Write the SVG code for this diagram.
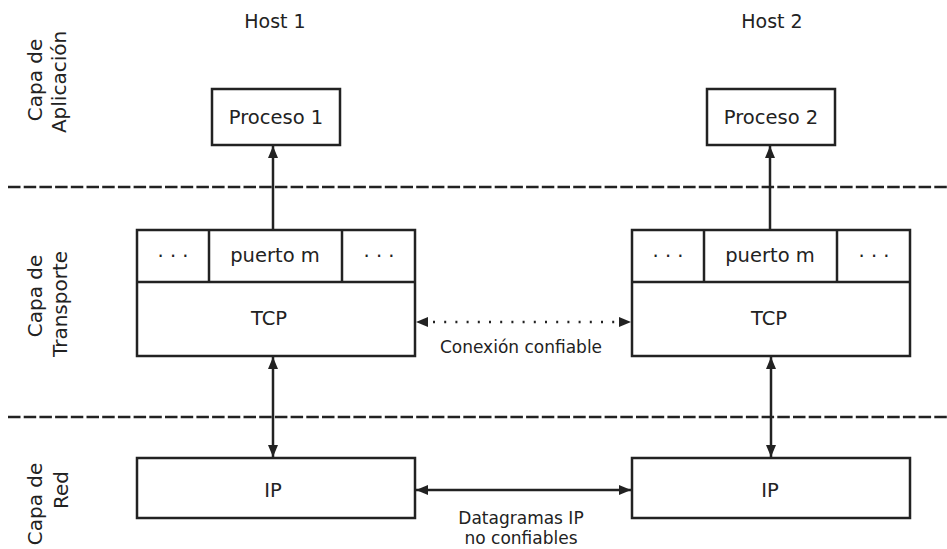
<svg xmlns="http://www.w3.org/2000/svg" width="947" height="549" viewBox="0 0 947 549">
  <defs>
    <style>
      .box { fill: #ffffff; stroke: #222222; stroke-width: 2.5; }
      .t { font-family: "DejaVu Sans", "Liberation Sans", sans-serif; fill: #222222; text-anchor: middle; }
      .bt { font-size: 19.5px; }
      .host { font-size: 19px; }
      .lbl { font-size: 17px; }
      .side { font-size: 20px; }
      .sep { stroke: #222222; stroke-width: 2.5; stroke-dasharray: 12.5 3.2; fill: none; }
      .link { stroke: #222222; stroke-width: 2.5; fill: none; }
      .dotted { stroke: #222222; stroke-width: 2.5; fill: none; stroke-dasharray: 2 9.2; stroke-dashoffset: 5.4; }
    </style>
    <marker id="head" viewBox="0 0 12 10" refX="12" refY="5" markerWidth="12" markerHeight="10" markerUnits="userSpaceOnUse" orient="auto-start-reverse">
      <path d="M0,0 L12,5 L0,10 z" fill="#222222"/>
    </marker>
  </defs>

  <rect width="947" height="549" fill="#ffffff"/>

  <!-- layer separators -->
  <g id="separators">
    <line class="sep" x1="8" y1="187" x2="947" y2="187"/>
    <line class="sep" x1="8" y1="417" x2="947" y2="417"/>
  </g>

  <!-- layer names, rotated -->
  <g id="layer-app">
    <text class="t side" transform="translate(42,80) rotate(-90)">Capa de</text>
    <text class="t side" transform="translate(66,82) rotate(-90)">Aplicación</text>
  </g>
  <g id="layer-transport">
    <text class="t side" transform="translate(42,296) rotate(-90)">Capa de</text>
    <text class="t side" transform="translate(67,304) rotate(-90)">Transporte</text>
  </g>
  <g id="layer-net">
    <text class="t side" transform="translate(42,504) rotate(-90)">Capa de</text>
    <text class="t side" transform="translate(68,490) rotate(-90)">Red</text>
  </g>

  <!-- host titles -->
  <text class="t host" x="275" y="28">Host 1</text>
  <text class="t host" x="772" y="28">Host 2</text>

  <!-- Host 1 nodes -->
  <g id="proceso1">
    <rect class="box" x="212" y="89" width="128" height="56"/>
    <text class="t bt" x="276" y="124">Proceso 1</text>
  </g>
  <g id="tcp1">
    <rect class="box" x="137" y="230" width="278" height="126"/>
    <line class="link" x1="137" y1="282" x2="415" y2="282"/>
    <line class="link" x1="209" y1="230" x2="209" y2="282"/>
    <line class="link" x1="342" y1="230" x2="342" y2="282"/>
    <text class="t bt" x="173" y="263">· · ·</text>
    <text class="t bt" x="275" y="262">puerto m</text>
    <text class="t bt" x="379" y="263">· · ·</text>
    <text class="t bt" x="269" y="325">TCP</text>
  </g>
  <g id="ip1">
    <rect class="box" x="137" y="458" width="278" height="60"/>
    <text class="t bt" x="273" y="497">IP</text>
  </g>

  <!-- Host 2 nodes -->
  <g id="proceso2">
    <rect class="box" x="707" y="89" width="128" height="56"/>
    <text class="t bt" x="771" y="124">Proceso 2</text>
  </g>
  <g id="tcp2">
    <rect class="box" x="632" y="230" width="278" height="126"/>
    <line class="link" x1="632" y1="282" x2="910" y2="282"/>
    <line class="link" x1="704" y1="230" x2="704" y2="282"/>
    <line class="link" x1="837" y1="230" x2="837" y2="282"/>
    <text class="t bt" x="668" y="263">· · ·</text>
    <text class="t bt" x="770" y="262">puerto m</text>
    <text class="t bt" x="874" y="263">· · ·</text>
    <text class="t bt" x="769" y="325">TCP</text>
  </g>
  <g id="ip2">
    <rect class="box" x="632" y="458" width="278" height="60"/>
    <text class="t bt" x="770" y="497">IP</text>
  </g>

  <!-- connectors -->
  <g id="connectors">
    <line class="link" x1="273" y1="230" x2="273" y2="146" marker-end="url(#head)"/>
    <line class="link" x1="770" y1="230" x2="770" y2="146" marker-end="url(#head)"/>
    <line class="link" x1="273" y1="357" x2="273" y2="457" marker-start="url(#head)" marker-end="url(#head)"/>
    <line class="link" x1="771" y1="357" x2="771" y2="457" marker-start="url(#head)" marker-end="url(#head)"/>
    <line class="dotted" x1="416" y1="322" x2="631" y2="322" marker-start="url(#head)" marker-end="url(#head)"/>
    <line class="link" x1="416" y1="490" x2="631" y2="490" marker-start="url(#head)" marker-end="url(#head)"/>
    <text class="t lbl" x="521" y="353">Conexión confiable</text>
    <text class="t lbl" x="521" y="524">Datagramas IP</text>
    <text class="t lbl" x="521" y="544">no confiables</text>
  </g>
</svg>
